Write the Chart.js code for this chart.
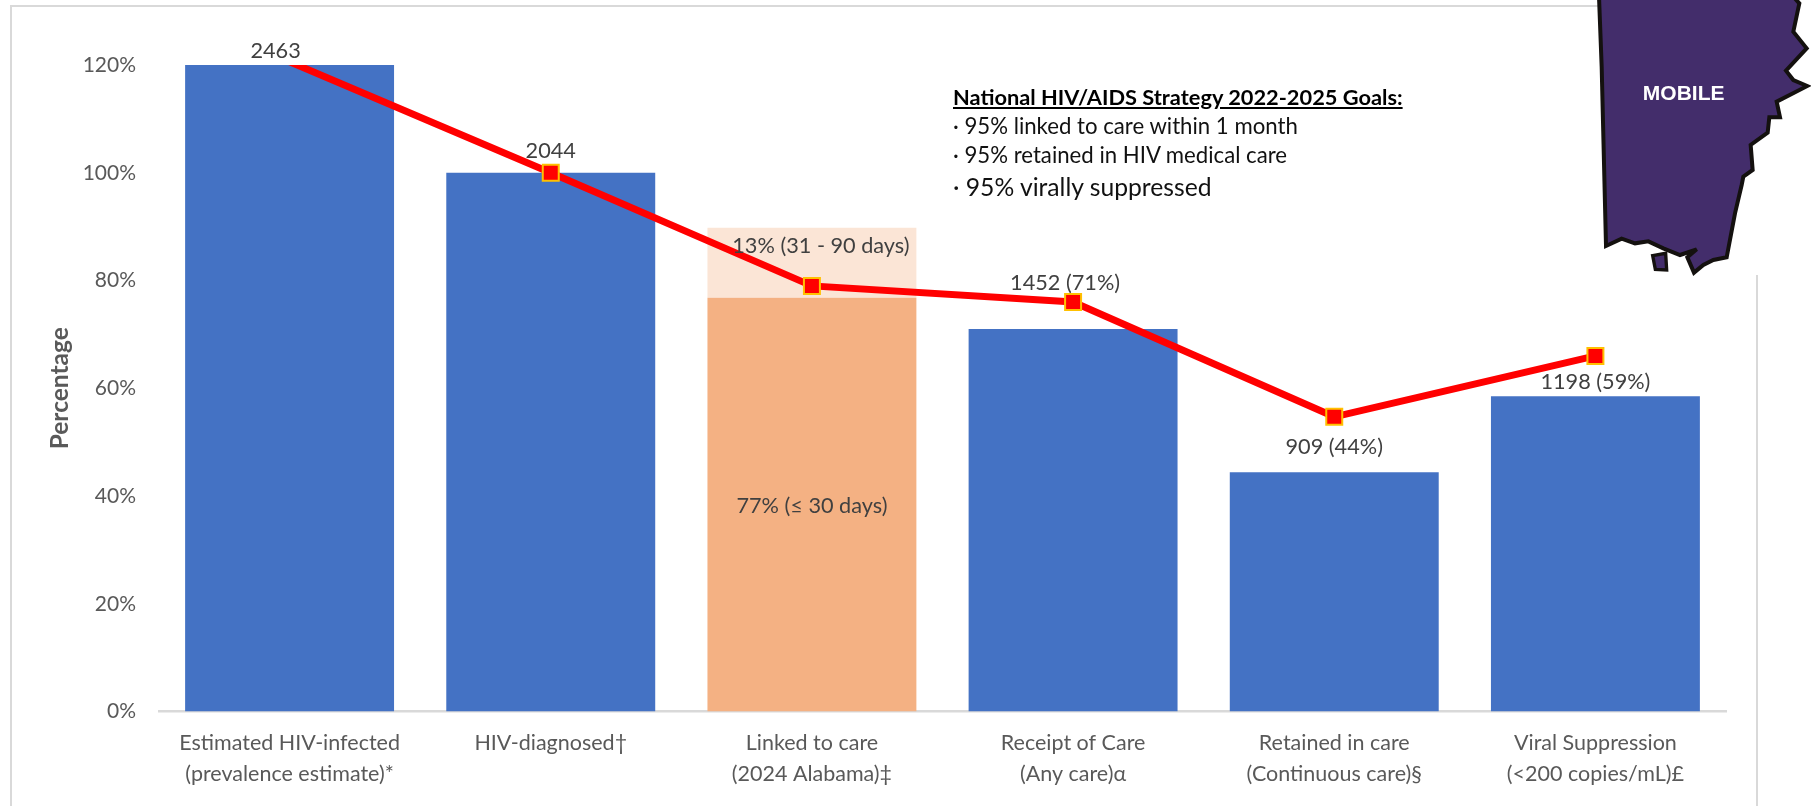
<!DOCTYPE html>
<html>
<head>
<meta charset="utf-8">
<script src="https://cdn.jsdelivr.net/npm/chart.js@4"></script>
<style>
html,body{margin:0;padding:0;background:#fff;overflow:hidden}
#wrap{position:relative;width:1811px;height:806px;overflow:hidden;font-family:Lato,sans-serif}
#frame{position:absolute;left:10px;top:5px;width:1744px;height:900px;border:2px solid #D9D9D9;box-sizing:content-box}
#chartBox{position:absolute;left:0;top:0;width:1811px;height:806px}
#mapCover{position:absolute;left:1598px;top:0;width:213px;height:275px;background:#fff}
#map{position:absolute;left:1500px;top:0;width:311px;height:300px}
.goal{position:absolute;left:953px;white-space:nowrap;color:#111;line-height:1}
</style>
</head>
<body>
<div id="wrap">
  <div id="frame"></div>
  <div id="chartBox"><canvas id="c" width="1811" height="806"></canvas></div>
  <div id="mapCover"></div>
  <svg id="map" viewBox="0 0 933 900">
    <polygon fill="#432D6B" stroke="#14110f" stroke-width="12" stroke-linejoin="miter"
      points="297,-10 305,200 318,738 365,716 405,730 445,724 490,745 540,765 590,748 562,772 582,818 610,795 640,780 680,772 705,640 725,555 730,530 758,510 752,435 803,398 808,352 840,352 830,305 922,258 880,240 858,212 920,145 880,95 898,10 880,-10"/>
    <polygon fill="#432D6B" stroke="#14110f" stroke-width="10" points="458,767 497,760 500,810 466,808"/>
    <text x="551" y="300" text-anchor="middle" fill="#fff" font-family="Liberation Sans" font-weight="700" font-size="63">MOBILE</text>
  </svg>
  <div class="goal" style="top:86px;font-size:21.8px;font-weight:700;text-decoration:underline;color:#000">National HIV/AIDS Strategy 2022-2025 Goals:</div>
  <div class="goal" style="top:115px;font-size:22.2px">· 95% linked to care within 1 month</div>
  <div class="goal" style="top:144px;font-size:22.2px">· 95% retained in HIV medical care</div>
  <div class="goal" style="top:175px;font-size:24.7px">· 95% virally suppressed</div>
</div>
<script>
const categories = [
  ["Estimated HIV-infected", "(prevalence estimate)*"],
  ["HIV-diagnosed†"],
  ["Linked to care", "(2024 Alabama)‡"],
  ["Receipt of Care", "(Any care)α"],
  ["Retained in care", "(Continuous care)§"],
  ["Viral Suppression", "(<200 copies/mL)£"]
];
const barValues = [120, 100, 76.8, 71, 44.4, 58.5];
const extraValues = [null, null, 13, null, null, null];
const lineValues = [120.6, 100, 79, 76, 54.7, 66];
const barLabels = ["2463", "2044", "", "1452 (71%)", "909 (44%)", "1198 (59%)"];
const extraLabel = "13% (31 - 90 days)";
const baseLabel = "77% (≤ 30 days)";
const yTicks = [0, 20, 40, 60, 80, 100, 120];

const BLUE = "#4472C4", ORANGE = "#F4B183", PEACH = "#FBE5D6";
const labelOffsets = [[-14, -14], [0, -22], [0, 0], [-8, -46], [0, -25], [0, -14]];

const labelsPlugin = {
  id: "labelsPlugin",
  afterDatasetsDraw(chart) {
    const { ctx, scales: { x, y } } = chart;
    ctx.save();
    ctx.font = "21.7px Lato";
    ctx.fillStyle = "#404040";
    ctx.textAlign = "center";
    ctx.textBaseline = "middle";
    barLabels.forEach((t, i) => {
      if (!t) return;
      const [dx, dy] = labelOffsets[i];
      ctx.fillText(t, x.getPixelForValue(i) + dx, y.getPixelForValue(barValues[i]) + dy);
    });
    ctx.fillText(extraLabel, x.getPixelForValue(2) + 9, y.getPixelForValue(barValues[2] + extraValues[2]) + 18);
    ctx.fillText(baseLabel, x.getPixelForValue(2), y.getPixelForValue(barValues[2] / 2) + 1);
    ctx.restore();
  }
};

new Chart(document.getElementById("c"), {
  data: {
    labels: categories,
    datasets: [
      {
        type: "line", label: "Line", data: lineValues, order: 0,
        borderColor: "#FF0000", borderWidth: 7, tension: 0,
        clip: { left: false, right: false, top: 0, bottom: false },
        pointStyle: "rect", pointRadius: lineValues.map((v, i) => i === 0 ? 0 : 11.3),
        pointBackgroundColor: "#FF0000", pointBorderColor: "#FFC000", pointBorderWidth: 2
      },
      {
        type: "bar", label: "Share", data: barValues, stack: "bars", order: 1,
        backgroundColor: barValues.map((v, i) => i === 2 ? ORANGE : BLUE),
        barPercentage: 0.8, categoryPercentage: 1
      },
      {
        type: "bar", label: "31-90 days", data: extraValues, stack: "bars", order: 1,
        backgroundColor: PEACH, barPercentage: 0.8, categoryPercentage: 1
      }
    ]
  },
  options: {
    responsive: false,
    animation: false,
    layout: { padding: { left: 0, right: 85, top: 65, bottom: 0 } },
    plugins: { legend: { display: false }, tooltip: { enabled: false } },
    scales: {
      x: {
        stacked: true,
        grid: { display: false, drawTicks: false },
        border: { display: true, color: "#D9D9D9", width: 2.5 },
        ticks: { color: "#595959", font: { family: "Lato", size: 21.5, lineHeight: 1.4 }, padding: 17, maxRotation: 0, autoSkip: false },
        afterFit(s) { s.height = 94.5; }
      },
      y: {
        stacked: true,
        min: 0, max: 120,
        grid: { display: false, drawTicks: false },
        border: { display: false },
        afterBuildTicks(s) { s.ticks = yTicks.map(v => ({ value: v })); },
        ticks: { color: "#595959", font: { family: "Lato", size: 21 }, padding: 23, callback: v => v + "%" },
        title: { display: true, text: "Percentage", color: "#595959", font: { family: "Lato", size: 24.5, weight: "700" }, padding: { top: 45, bottom: 0 } },
        afterFit(s) { s.width = 159; }
      }
    }
  },
  plugins: [labelsPlugin]
});
</script>
</body>
</html>
